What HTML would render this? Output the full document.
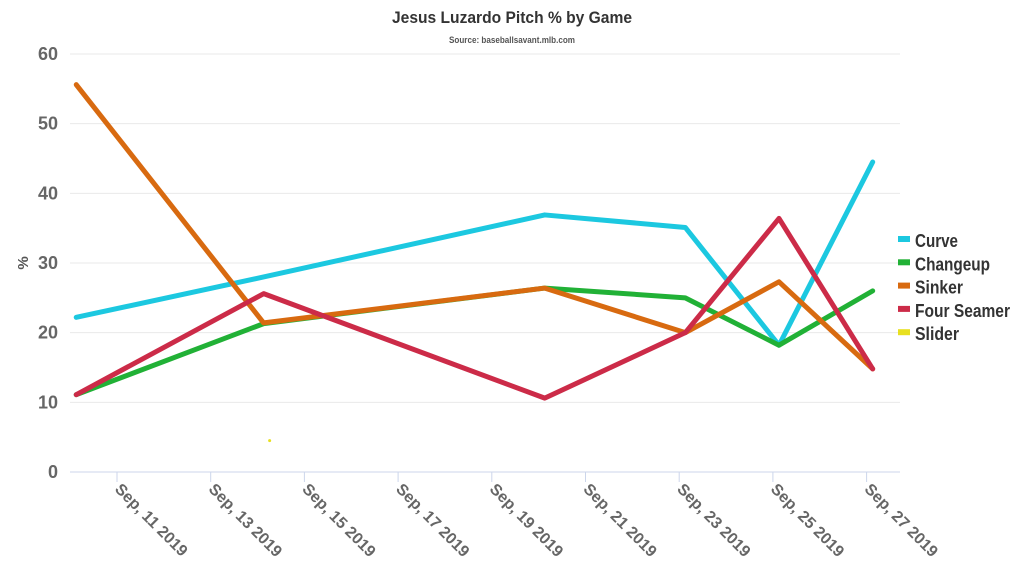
<!DOCTYPE html>
<html><head><meta charset="utf-8"><style>
body{margin:0;background:#fff;width:1024px;height:576px;overflow:hidden}
svg{font-family:"Liberation Sans Narrow","Liberation Sans",sans-serif;font-weight:bold}
</style></head><body>
<svg id="chart" width="1024" height="576" viewBox="0 0 1024 576">
<text x="392" y="23" textLength="240" lengthAdjust="spacingAndGlyphs" font-size="17" fill="#333">Jesus Luzardo Pitch % by Game</text>
<text x="449" y="43" textLength="126" lengthAdjust="spacingAndGlyphs" font-size="9" fill="#555">Source: baseballsavant.mlb.com</text>
<text transform="translate(28,263) rotate(-90)" text-anchor="middle" font-size="15" fill="#555">%</text>
<g id="grid"></g><g id="xaxis"></g><g id="series"></g><g id="legend"></g>
</svg>
<script>
const dates=["2019-09-10","2019-09-14","2019-09-20","2019-09-23","2019-09-25","2019-09-27"];
const curve=[22.2,28,36.9,35.1,18.2,44.5];
const changeup=[11.1,21.3,26.4,25,18.2,26];
const sinker=[55.6,21.4,26.4,20,27.3,14.8];
const fourSeamer=[11.1,25.6,10.6,20,36.4,14.8];
const sliderDates=["2019-09-14"];
const slider=[4.5];
const yTicks=[0,10,20,30,40,50,60];
const xTickLabels=["Sep, 11 2019","Sep, 13 2019","Sep, 15 2019","Sep, 17 2019","Sep, 19 2019","Sep, 21 2019","Sep, 23 2019","Sep, 25 2019","Sep, 27 2019"];
const seriesNames=["Curve","Changeup","Sinker","Four Seamer","Slider"];
const legendWidths=[43,75,48,95,44];
const colors=["#1cc8e0","#21b136","#d86a10","#cc2b48","#e8e020"];

const NS="http://www.w3.org/2000/svg";
const DAY=46.85,X0=117,OFF=0.13;
const base=Date.UTC(2019,8,11);
function dayOf(s){const p=s.split("-");return (Date.UTC(+p[0],+p[1]-1,+p[2])-base)/864e5;}
function xs(s){return X0+(dayOf(s)+OFF)*DAY;}
function xl(i){const p=xTickLabels[i].match(/(\d+) (\d+)/);return X0+(Date.UTC(+p[2],8,+p[1])-base)/864e5*DAY;}
function ys(v){return 472-v*(418/60);}
function mk(t,a,parent){const e=document.createElementNS(NS,t);for(const k in a)e.setAttribute(k,a[k]);parent.appendChild(e);return e;}
const grid=document.getElementById("grid");
yTicks.forEach(v=>{
  const l=mk("line",{x1:70,x2:900,y1:ys(v),y2:ys(v),stroke:v===0?"#ccd6eb":"#e9e9e9","stroke-width":1},grid);
  
  
  const t=mk("text",{x:58,y:ys(v)+6,"text-anchor":"end","font-size":18,fill:"#666"},grid);
  t.textContent=v;
  
  
});
const xa=document.getElementById("xaxis");
xTickLabels.forEach((s,i)=>{
  const x=xl(i);
  const tk=mk("line",{x1:x,x2:x,y1:472,y2:482,stroke:"#ccd6eb"},xa);
  
  
  const t=mk("text",{transform:`translate(${x-3},${490}) rotate(45)`,"font-size":16,fill:"#666"},xa);
  t.textContent=s;
  
  
});
const sg=document.getElementById("series");
[curve,changeup,sinker,fourSeamer].forEach((arr,k)=>{
  const pts=arr.map((v,i)=>xs(dates[i])+","+ys(v)).join(" ");
  const p=mk("polyline",{points:pts,fill:"none",stroke:colors[k],"stroke-width":5,"stroke-linejoin":"round","stroke-linecap":"round"},sg);
  
  
});
slider.forEach((v,i)=>{
  const c=mk("circle",{cx:xs(sliderDates[i])+6,cy:ys(v),r:1.5,fill:colors[4]},sg);
  
  
});
const lg=document.getElementById("legend");
seriesNames.forEach((n,i)=>{
  const y=241+i*23.3;
  const r=mk("rect",{x:898,y:y-5,width:12,height:6,fill:colors[i]},lg);
  
  
  const t=mk("text",{x:915,y:y+6,"font-size":18,fill:"#333",textLength:legendWidths[i],lengthAdjust:"spacingAndGlyphs"},lg);
  t.textContent=n;
  
  
});
</script>
</body></html>
